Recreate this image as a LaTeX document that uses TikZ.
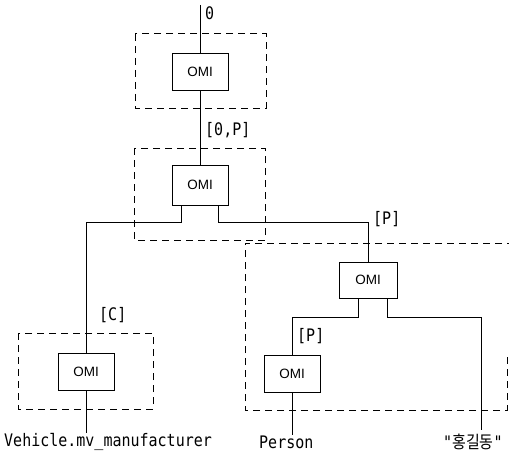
\documentclass[tikz,border=0pt]{standalone}
\usepackage{fontspec}
\setmainfont{Liberation Sans}
\setmonofont{DejaVu Sans Mono}
\newfontfamily\krfont{Noto Sans CJK KR}
\begin{document}
\begin{tikzpicture}[x=1pt,y=-1pt,
  omibox/.style={draw, line width=0.9pt, minimum width=56pt, minimum height=37pt, inner sep=0pt, font=\fontsize{13.5}{15}\selectfont},
  grp/.style={draw, line width=1pt, dash pattern=on 7pt off 5pt},
  conn/.style={draw, line width=0.9pt},
  lbl/.style={anchor=west, inner sep=0pt, font=\ttfamily\fontsize{15}{18}\selectfont, yscale=1.15}]
\useasboundingbox (0,0) rectangle (509,460);
% group boxes
\draw[grp] (135,34) rectangle (266,108);
\draw[grp] (134,148) rectangle (265,240);
\draw[grp] (18,333) rectangle (153,409);
\draw[grp] (507,357) -- (507,410) -- (245,410) -- (245,243) -- (509,243);
% operator nodes
\node[omibox] (omi1) at (200,71.5) {OMI};
\node[omibox, minimum height=40pt] (omi2) at (200,185) {OMI};
\node[omibox, minimum width=58pt, minimum height=36pt] (omi3) at (368,280) {OMI};
\node[omibox] (omi4) at (292,373.5) {OMI};
\node[omibox] (omi5) at (86,371.5) {OMI};
% leaf labels
\node[lbl] (veh) at (4,442) {Vehicle.mv\_manufacturer};
\node[lbl] (person) at (259,442) {Person};
\node[lbl] (hong) at (443,442) {"{\krfont\fontsize{15}{17}\selectfont 홍길동}"};
% edge labels
\node[lbl] (l0) at (205,13) {0};
\node[lbl] (l0p) at (205,130) {[0,P]};
\node[lbl] (lp1) at (373,219) {[P]};
\node[lbl] (lc) at (99,315) {[C]};
\node[lbl] (lp2) at (297,336) {[P]};
% junctions
\coordinate (top) at (200,5);
\coordinate (j1) at (86,222);
\coordinate (j2) at (368,222);
\coordinate (j3) at (292,317);
\coordinate (j4) at (481,317);
\coordinate (e4) at (481,430);
% connectors
\draw[conn] (top) -- (omi1.north);
\draw[conn] (omi1.south) -- (omi2.north);
\draw[conn] ([xshift=-18.5pt]omi2.south) |- (j1) -- (omi5.north);
\draw[conn] ([xshift=18.5pt]omi2.south) |- (j2) -- (omi3.north);
\draw[conn] ([xshift=-10pt]omi3.south) |- (j3) -- (omi4.north);
\draw[conn] ([xshift=19pt]omi3.south) |- (j4) -- (e4);
\draw[conn] (omi4.south) -- (omi4.south |- person.north);
\draw[conn] (omi5.south) -- (omi5.south |- veh.north);
\end{tikzpicture}
\end{document}
